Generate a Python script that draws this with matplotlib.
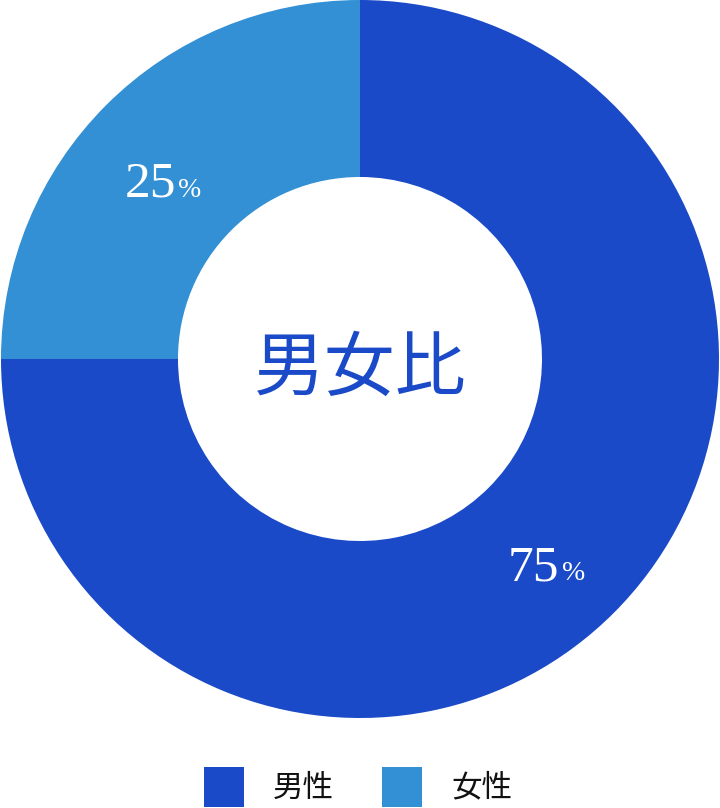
import matplotlib
matplotlib.use('agg')
import numpy as np
import matplotlib.pyplot as plt
from matplotlib.patches import Rectangle

plt.rcParams['font.family'] = ['Noto Sans CJK JP', 'DejaVu Sans']

labels = ['男性', '女性']
shares = [75, 25]
colors = ['#1A4AC8', '#3390D4']
title = '男女比'

fig = plt.figure(figsize=(7.2, 8.08), dpi=100)
ax = fig.add_axes([1/720, 90/808, 718/720, 718/808])
ax.set_aspect('equal')

wedges, _ = ax.pie(shares, colors=colors, startangle=90, counterclock=False,
                   radius=1.0, wedgeprops=dict(width=0.493, linewidth=0))
ax.set_xlim(-1, 1)
ax.set_ylim(-1, 1)

# percentage labels in the middle of the ring, "%" smaller
for w, v in zip(wedges, shares):
    mid = np.deg2rad((w.theta1 + w.theta2) / 2)
    r = 0.755
    x, y = r * np.cos(mid) + 0.022, r * np.sin(mid) - 0.082
    ax.text(x, y, str(v), color='white', fontsize=37, family='Liberation Serif',
            ha='right', va='baseline')
    ax.text(x + 0.006, y, '%', color='white', fontsize=20,
            family='Liberation Serif', ha='left', va='baseline')

ax.text(0, -0.028, title, color='#1A4AC8', fontsize=51, ha='center', va='center')

# legend drawn by hand in pixel coords
sq_x = [204, 382]
for lab, c, x0 in zip(labels, colors, sq_x):
    fig.add_artist(Rectangle((x0 / 720, 1 / 808), 40 / 720, 40 / 808,
                             facecolor=c, edgecolor='none',
                             transform=fig.transFigure))
    fig.text((x0 + 69) / 720, (808 - 788) / 808, lab, fontsize=22,
             ha='left', va='center', color='#111111')

fig.savefig('out.png', dpi=100)
